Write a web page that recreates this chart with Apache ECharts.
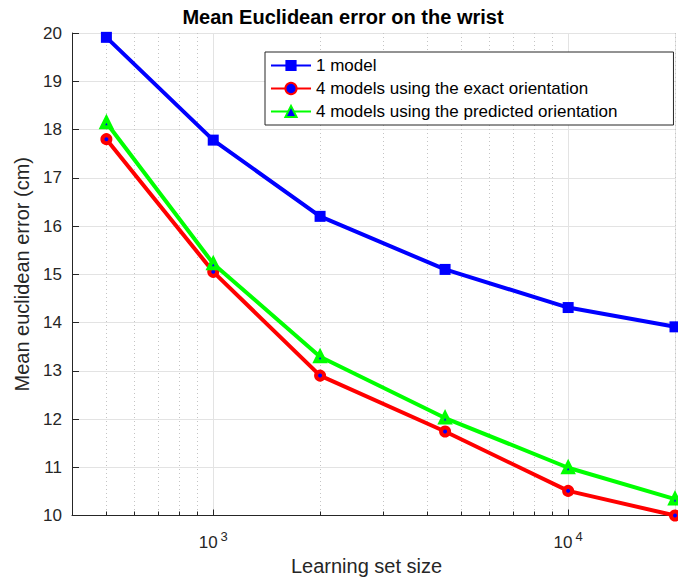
<!DOCTYPE html>
<html>
<head>
<meta charset="utf-8">
<script src="https://cdn.jsdelivr.net/npm/echarts@6/dist/echarts.min.js"></script>
<style>
html,body{margin:0;padding:0;background:#fff;}
#chart{width:678px;height:583px;}
</style>
</head>
<body>
<div id="chart"></div>
<script>
// ---- data ----
const titleText = 'Mean Euclidean error on the wrist';
const xLabel = 'Learning set size';
const yLabel = 'Mean euclidean error (cm)';
const seriesNames = ['1 model', '4 models using the exact orientation', '4 models using the predicted orientation'];
const learningSetSizes = [500, 1000, 2000, 4500, 10000, 20000];
const oneModel = [19.91, 17.78, 16.20, 15.10, 14.31, 13.91];
const exactOrientation = [17.80, 15.05, 12.90, 11.74, 10.51, 10.00];
const predictedOrientation = [18.14, 15.22, 13.29, 12.02, 10.99, 10.34];
const xMin = 400, xMax = 20000;
const yMin = 10, yMax = 20, yStep = 1;
const minorTickValues = [500, 600, 700, 800, 900, 2000, 3000, 4000, 5000, 6000, 7000, 8000, 9000, 20000];

const FONT = 'Liberation Sans, Arial, Helvetica, sans-serif';
const AXIS_COLOR = '#262626';

const chart = echarts.init(document.getElementById('chart'), null, {renderer: 'svg'});

function isPow10(v) {
  const l = Math.log10(v);
  return Math.abs(l - Math.round(l)) < 1e-6;
}

const option = {
  backgroundColor: '#ffffff',
  animation: false,
  textStyle: {fontFamily: FONT},
  graphic: [{
    type: 'text',
    x: 343,
    y: 17,
    style: {
      text: titleText,
      font: 'bold 20px ' + FONT,
      fill: '#000000',
      textAlign: 'center',
      textVerticalAlign: 'middle'
    }
  }],
  grid: {left: 72, right: 0, top: 33, bottom: 67.5, containLabel: false},
  legend: {
    data: seriesNames,
    orient: 'vertical',
    left: 265,
    top: 52,
    padding: [5, 56, 5, 5],
    itemGap: 6,
    itemWidth: 40,
    itemHeight: 14,
    backgroundColor: '#ffffff',
    borderColor: AXIS_COLOR,
    borderWidth: 1,
    borderRadius: 0,
    textStyle: {fontFamily: FONT, fontSize: 17, color: '#000000', lineHeight: 17}
  },
  xAxis: {
    type: 'log',
    logBase: 10,
    min: xMin,
    max: xMax,
    name: xLabel,
    nameLocation: 'middle',
    nameGap: 40,
    nameTextStyle: {fontFamily: FONT, fontSize: 20, color: AXIS_COLOR, padding: [0, 14, 0, 0]},
    axisLine: {show: true, onZero: false, lineStyle: {color: AXIS_COLOR, width: 1}},
    axisTick: {show: true, inside: true, length: 6, lineStyle: {color: AXIS_COLOR}},
    splitLine: {show: true, lineStyle: {color: '#e3e3e3', width: 1}},
    axisLabel: {
      margin: 14,
      formatter: function (v) {
        if (!isPow10(v)) return '';
        return '{b|10}{s|' + Math.round(Math.log10(v)) + '}';
      },
      rich: {
        b: {fontFamily: FONT, fontSize: 17, color: AXIS_COLOR, verticalAlign: 'bottom', padding: [0, 3, 0, 0]},
        s: {fontFamily: FONT, fontSize: 13, color: AXIS_COLOR, verticalAlign: 'top', padding: [0, 0, 8, 0]}
      }
    }
  },
  yAxis: {
    type: 'value',
    min: yMin,
    max: yMax,
    interval: yStep,
    name: yLabel,
    nameLocation: 'middle',
    nameGap: 37,
    nameTextStyle: {fontFamily: FONT, fontSize: 20, color: AXIS_COLOR},
    axisLine: {show: true, lineStyle: {color: AXIS_COLOR, width: 1}},
    axisTick: {show: true, inside: true, length: 7, lineStyle: {color: AXIS_COLOR}},
    splitLine: {show: true, lineStyle: {color: '#e3e3e3', width: 1}},
    axisLabel: {margin: 10, fontFamily: FONT, fontSize: 17, color: AXIS_COLOR}
  },
  series: [
    {
      name: 'minor-grid',
      type: 'custom',
      silent: true,
      z: 1,
      clip: false,
      data: minorTickValues.map(v => [v, yMin]),
      encode: {x: 0, y: 1},
      renderItem: function (params, api) {
        const bottom = api.coord([api.value(0), yMin]);
        const top = api.coord([api.value(0), yMax]);
        const x = Math.round(bottom[0]) + 0.5;
        return {
          type: 'group',
          children: [
            {type: 'line', shape: {x1: x, y1: top[1], x2: x, y2: bottom[1]},
             style: {stroke: '#c4c4c4', lineWidth: 1, lineDash: [1, 3]}},
            {type: 'line', shape: {x1: x, y1: bottom[1], x2: x, y2: bottom[1] - 4},
             style: {stroke: AXIS_COLOR, lineWidth: 1}}
          ]
        };
      }
    },
    {
      name: seriesNames[0],
      type: 'line',
      z: 3,
      data: learningSetSizes.map((x, i) => [x, oneModel[i]]),
      symbol: 'rect',
      symbolSize: 11,
      lineStyle: {color: '#0000ff', width: 4},
      itemStyle: {color: '#0000ff', borderWidth: 0}
    },
    {
      name: seriesNames[1],
      type: 'line',
      z: 4,
      data: learningSetSizes.map((x, i) => [x, exactOrientation[i]]),
      symbol: 'circle',
      symbolSize: 8,
      lineStyle: {color: '#ff0000', width: 4},
      itemStyle: {color: '#0000ff', borderColor: '#ff0000', borderWidth: 4}
    },
    {
      name: seriesNames[2],
      type: 'line',
      z: 5,
      data: learningSetSizes.map((x, i) => [x, predictedOrientation[i]]),
      symbol: 'triangle',
      symbolSize: 9,
      lineStyle: {color: '#00ff00', width: 4},
      itemStyle: {color: '#0000ff', borderColor: '#00ff00', borderWidth: 4}
    }
  ]
};
chart.setOption(option);
</script>
</body>
</html>
